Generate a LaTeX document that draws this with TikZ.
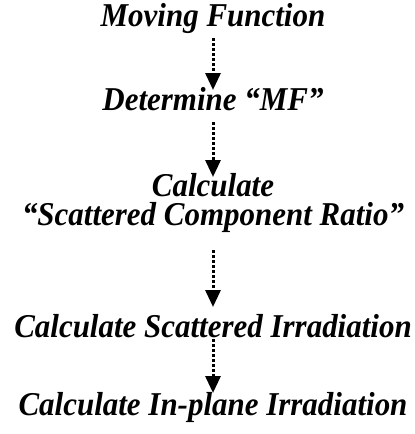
\documentclass[tikz,border=0pt]{standalone}
\usepackage{fontspec}
\setmainfont{Liberation Serif}
\newfontfamily\stagefont{Liberation Serif}[FakeStretch=0.93,Ligatures=TeX]
\usetikzlibrary{arrows.meta,positioning}
\tikzset{stage/.style={font=\stagefont\bfseries\itshape\fontsize{33.3}{28.5}\selectfont,align=center,inner sep=0pt,anchor=base},flow/.style={-{Triangle[width=15pt,length=17pt]},line width=3pt,dash pattern=on 3pt off 2pt}}
\begin{document}
\begin{tikzpicture}[x=1pt,y=1pt]
\useasboundingbox (0,0) rectangle (415,-434);
\node[stage] (mf) at (213,-26) {Moving Function};
\node[stage] (dmf) at (213,-110) {Determine “MF”};
\node[stage] (scr) at (213,-225) {Calculate\\“Scattered Component Ratio”};
\node[stage] (sir) at (213,-337) {Calculate Scattered Irradiation};
\node[stage] (ipr) at (213,-415) {Calculate In-plane Irradiation};
\draw[flow,shorten <=12pt,shorten >=20pt] (mf.base) -- (dmf.base);
\draw[flow,shorten <=12pt,shorten >=48pt] (dmf.base) -- (scr.base);
\draw[flow,shorten <=25pt,shorten >=30pt] (scr.base) -- (sir.base);
\draw[flow,shorten <=2pt,shorten >=22pt] (sir.base) -- (ipr.base);
\end{tikzpicture}
\end{document}
